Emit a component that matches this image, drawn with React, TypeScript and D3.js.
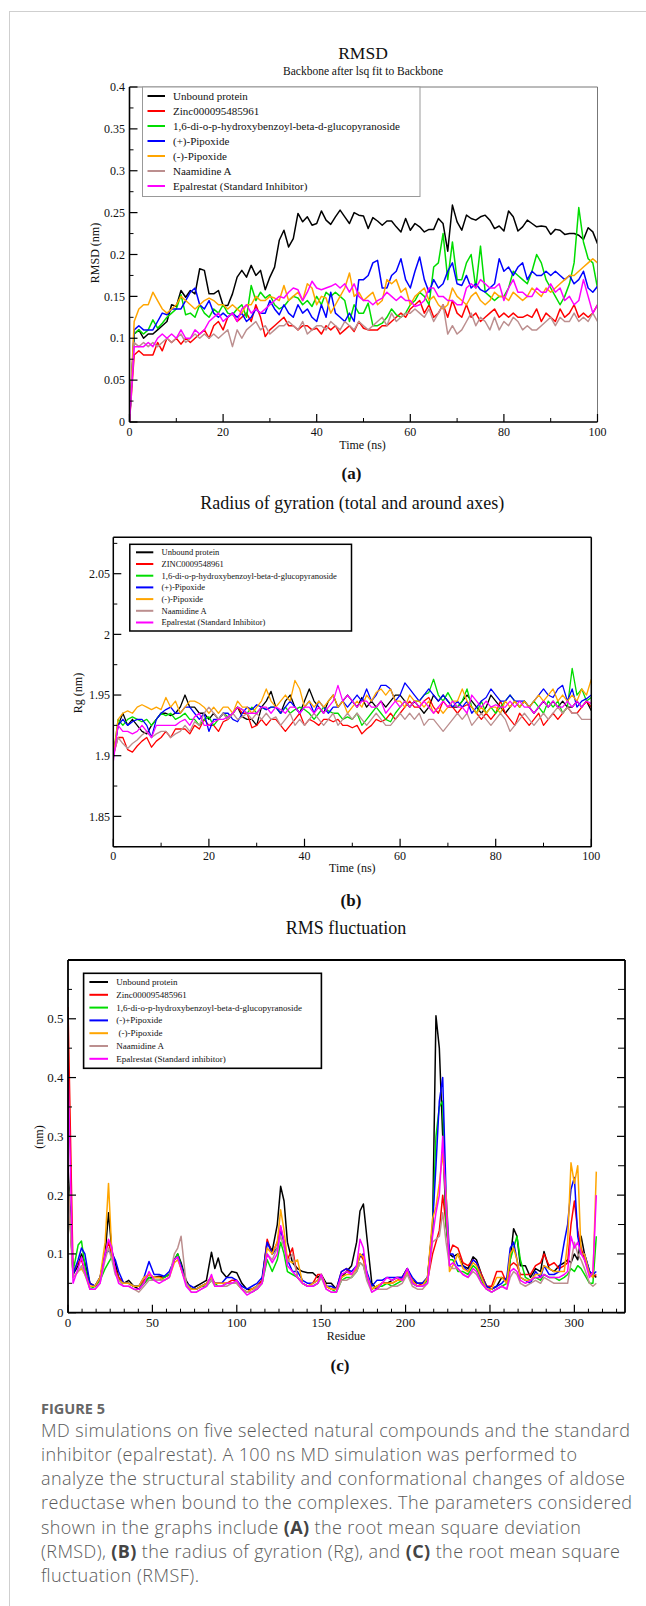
import React from "react";
import * as d3 from "d3";

const SERIES_COLORS = ["#000000", "#ff0000", "#00dd00", "#0000ff", "#ffa500", "#bc8f8f", "#ff00ff"];

const LEGEND_A = [
  "Unbound protein",
  "Zinc000095485961",
  "1,6-di-o-p-hydroxybenzoyl-beta-d-glucopyranoside",
  "(+)-Pipoxide",
  "(-)-Pipoxide",
  "Naamidine A",
  "Epalrestat (Standard Inhibitor)",
];
const LEGEND_B = [
  "Unbound protein",
  "ZINC0009548961",
  "1,6-di-o-p-hydroxybenzoyl-beta-d-glucopyranoside",
  "(+)-Pipoxide",
  "(-)-Pipoxide",
  "Naamidine A",
  "Epalrestat (Standard Inhibitor)",
];
const LEGEND_C = [
  "Unbound protein",
  "Zinc000095485961",
  "1,6-di-o-p-hydroxybenzoyl-beta-d-glucopyranoside",
  "(-)+Pipoxide",
  "\u00a0(-)-Pipoxide",
  "Naamidine A",
  "Epalrestat (Standard inhibitor)",
];

// ---------- RMSD (ns 0..100) ----------
const TIME_NS = d3.range(0, 101);
const RMSD_UNBOUND = [0, 0.105, 0.11, 0.1, 0.105, 0.105, 0.11, 0.115, 0.12, 0.14, 0.138,
  0.157, 0.149, 0.157, 0.153, 0.183, 0.181, 0.153, 0.153, 0.157, 0.139,
  0.139, 0.153, 0.173, 0.181, 0.173, 0.187, 0.175, 0.181, 0.158, 0.173,
  0.185, 0.217, 0.229, 0.209, 0.219, 0.249, 0.239, 0.245, 0.235, 0.237,
  0.252, 0.241, 0.236, 0.245, 0.253, 0.245, 0.237, 0.25, 0.247, 0.246,
  0.231, 0.244, 0.24, 0.235, 0.24, 0.24, 0.233, 0.227, 0.243, 0.229,
  0.237, 0.233, 0.227, 0.23, 0.23, 0.243, 0.237, 0.204, 0.259, 0.239,
  0.229, 0.247, 0.243, 0.241, 0.245, 0.247, 0.241, 0.231, 0.234, 0.228,
  0.252, 0.245, 0.228, 0.233, 0.241, 0.237, 0.233, 0.234, 0.233, 0.224,
  0.23, 0.229, 0.224, 0.225, 0.225, 0.223, 0.218, 0.232, 0.227, 0.213];
const RMSD_ZINC = [0, 0.08, 0.085, 0.08, 0.08, 0.08, 0.095, 0.085, 0.1, 0.095, 0.1,
  0.093, 0.1, 0.095, 0.1, 0.105, 0.11, 0.1, 0.115, 0.12, 0.11,
  0.125, 0.13, 0.12, 0.125, 0.13, 0.12, 0.14, 0.125, 0.102, 0.11,
  0.115, 0.12, 0.125, 0.115, 0.115, 0.11, 0.115, 0.115, 0.11, 0.112,
  0.105, 0.115, 0.11, 0.115, 0.105, 0.11, 0.115, 0.108, 0.12, 0.112,
  0.11, 0.11, 0.11, 0.115, 0.115, 0.12, 0.125, 0.13, 0.125, 0.135,
  0.14, 0.145, 0.13, 0.14, 0.125, 0.13, 0.14, 0.125, 0.145, 0.13,
  0.125, 0.14, 0.125, 0.13, 0.12, 0.125, 0.13, 0.135, 0.125, 0.13,
  0.125, 0.13, 0.125, 0.125, 0.128, 0.125, 0.135, 0.12, 0.13, 0.125,
  0.12, 0.135, 0.125, 0.13, 0.14, 0.125, 0.13, 0.125, 0.13, 0.14];
const RMSD_DIHB = [0, 0.105, 0.11, 0.105, 0.11, 0.122, 0.112, 0.118, 0.125, 0.13, 0.135,
  0.152, 0.128, 0.13, 0.125, 0.14, 0.13, 0.125, 0.135, 0.13, 0.14,
  0.13, 0.128, 0.135, 0.14, 0.125, 0.163, 0.145, 0.155, 0.148, 0.152,
  0.14, 0.135, 0.138, 0.145, 0.15, 0.148, 0.14, 0.145, 0.138, 0.15,
  0.14, 0.155, 0.15, 0.155, 0.15, 0.145, 0.12, 0.14, 0.13, 0.13,
  0.142, 0.115, 0.115, 0.118, 0.125, 0.135, 0.128, 0.125, 0.13, 0.14,
  0.145, 0.155, 0.15, 0.14, 0.185, 0.19, 0.225, 0.17, 0.215, 0.17,
  0.17, 0.19, 0.2, 0.16, 0.21, 0.155, 0.15, 0.145, 0.15, 0.15,
  0.16, 0.18, 0.175, 0.17, 0.165, 0.18, 0.2, 0.19, 0.17, 0.16,
  0.15, 0.14, 0.15, 0.165, 0.19, 0.256, 0.215, 0.195, 0.19, 0.16];
const RMSD_PLUS = [0, 0.11, 0.115, 0.11, 0.11, 0.11, 0.12, 0.13, 0.128, 0.135, 0.135,
  0.135, 0.145, 0.155, 0.16, 0.14, 0.135, 0.145, 0.13, 0.125, 0.13,
  0.125, 0.13, 0.125, 0.13, 0.12, 0.125, 0.135, 0.13, 0.13, 0.145,
  0.135, 0.128, 0.14, 0.13, 0.125, 0.14, 0.13, 0.135, 0.125, 0.12,
  0.14, 0.125, 0.155, 0.13, 0.125, 0.12, 0.13, 0.12, 0.17, 0.17,
  0.175, 0.19, 0.193, 0.16, 0.16, 0.175, 0.18, 0.195, 0.17, 0.16,
  0.18, 0.197, 0.17, 0.155, 0.17, 0.16, 0.165, 0.18, 0.19, 0.165,
  0.163, 0.175, 0.16, 0.165, 0.158, 0.155, 0.16, 0.165, 0.195, 0.18,
  0.185, 0.175, 0.185, 0.19, 0.17, 0.18, 0.175, 0.175, 0.18, 0.175,
  0.18, 0.175, 0.17, 0.175, 0.165, 0.17, 0.18, 0.16, 0.155, 0.162];
const RMSD_MINUS = [0, 0.12, 0.135, 0.14, 0.14, 0.155, 0.145, 0.135, 0.13, 0.135, 0.14,
  0.15, 0.145, 0.14, 0.135, 0.14, 0.145, 0.148, 0.145, 0.14, 0.14,
  0.135, 0.14, 0.135, 0.13, 0.14, 0.14, 0.15, 0.145, 0.145, 0.15,
  0.148, 0.145, 0.163, 0.145, 0.15, 0.155, 0.145, 0.165, 0.16, 0.14,
  0.15, 0.148, 0.13, 0.14, 0.15, 0.16, 0.178, 0.15, 0.155, 0.145,
  0.15, 0.155, 0.14, 0.145, 0.17, 0.165, 0.17, 0.155, 0.16, 0.14,
  0.15, 0.155, 0.16, 0.145, 0.15, 0.14, 0.135, 0.14, 0.16, 0.15,
  0.145, 0.14, 0.15, 0.155, 0.145, 0.14, 0.145, 0.155, 0.15, 0.15,
  0.145, 0.155, 0.15, 0.145, 0.15, 0.16, 0.155, 0.15, 0.16, 0.155,
  0.16, 0.165, 0.17, 0.175, 0.175, 0.18, 0.185, 0.19, 0.195, 0.19];
const RMSD_NAAM = [0, 0.095, 0.09, 0.095, 0.09, 0.095, 0.09, 0.095, 0.1, 0.095, 0.1,
  0.105, 0.095, 0.1, 0.105, 0.1, 0.105, 0.1, 0.105, 0.1, 0.105,
  0.11, 0.09, 0.11, 0.1, 0.11, 0.115, 0.12, 0.11, 0.115, 0.105,
  0.11, 0.115, 0.115, 0.12, 0.115, 0.11, 0.12, 0.105, 0.11, 0.115,
  0.115, 0.11, 0.12, 0.115, 0.11, 0.12, 0.115, 0.11, 0.12, 0.115,
  0.11, 0.115, 0.12, 0.125, 0.115, 0.13, 0.12, 0.125, 0.13, 0.13,
  0.135, 0.13, 0.125, 0.135, 0.12, 0.13, 0.14, 0.105, 0.115, 0.105,
  0.11, 0.12, 0.13, 0.115, 0.125, 0.12, 0.11, 0.125, 0.11, 0.12,
  0.115, 0.125, 0.12, 0.11, 0.115, 0.11, 0.11, 0.115, 0.12, 0.125,
  0.115, 0.125, 0.12, 0.12, 0.13, 0.12, 0.125, 0.12, 0.13, 0.12];
const RMSD_EPAL = [0, 0.09, 0.09, 0.09, 0.095, 0.09, 0.1, 0.105, 0.1, 0.105, 0.1,
  0.11, 0.1, 0.1, 0.11, 0.105, 0.11, 0.12, 0.125, 0.13, 0.12,
  0.125, 0.13, 0.12, 0.135, 0.14, 0.13, 0.135, 0.13, 0.135, 0.14,
  0.145, 0.15, 0.148, 0.155, 0.16, 0.158, 0.145, 0.155, 0.168, 0.16,
  0.158, 0.16, 0.162, 0.165, 0.16, 0.165, 0.155, 0.165, 0.15, 0.145,
  0.145, 0.14, 0.145, 0.148, 0.155, 0.15, 0.145, 0.15, 0.145, 0.145,
  0.138, 0.14, 0.145, 0.16, 0.16, 0.15, 0.15, 0.145, 0.145, 0.14,
  0.14, 0.16, 0.165, 0.16, 0.17, 0.165, 0.16, 0.16, 0.165, 0.145,
  0.16, 0.17, 0.155, 0.155, 0.15, 0.15, 0.16, 0.155, 0.155, 0.165,
  0.155, 0.16, 0.145, 0.15, 0.14, 0.145, 0.17, 0.15, 0.13, 0.14];

// ---------- Radius of gyration (ns 0..100) ----------
const RG_UNBOUND = [1.9, 1.925, 1.935, 1.925, 1.93, 1.925, 1.92, 1.918, 1.925, 1.93, 1.935,
  1.935, 1.933, 1.935, 1.94, 1.95, 1.94, 1.94, 1.935, 1.935, 1.93,
  1.935, 1.93, 1.935, 1.93, 1.935, 1.94, 1.932, 1.93, 1.93, 1.925,
  1.94, 1.945, 1.953, 1.94, 1.935, 1.945, 1.95, 1.94, 1.935, 1.945,
  1.955, 1.945, 1.94, 1.935, 1.945, 1.95, 1.94, 1.945, 1.95, 1.945,
  1.94, 1.948, 1.94, 1.945, 1.94, 1.945, 1.94, 1.945, 1.95, 1.95,
  1.945, 1.94, 1.945, 1.94, 1.935, 1.94, 1.95, 1.945, 1.95, 1.945,
  1.94, 1.94, 1.945, 1.95, 1.945, 1.94, 1.935, 1.94, 1.95, 1.945,
  1.94, 1.935, 1.94, 1.945, 1.94, 1.945, 1.94, 1.935, 1.94, 1.945,
  1.94, 1.945, 1.94, 1.945, 1.94, 1.94, 1.945, 1.94, 1.945, 1.937];
const RG_ZINC = [1.9, 1.915, 1.915, 1.905, 1.903, 1.908, 1.912, 1.915, 1.907, 1.912, 1.915,
  1.92, 1.915, 1.922, 1.922, 1.922, 1.918, 1.925, 1.922, 1.93, 1.925,
  1.925, 1.92, 1.928, 1.93, 1.935, 1.94, 1.935, 1.935, 1.923, 1.925,
  1.93, 1.925, 1.93, 1.93, 1.925, 1.92, 1.925, 1.93, 1.935, 1.925,
  1.93, 1.928, 1.925, 1.93, 1.93, 1.928, 1.93, 1.925, 1.925, 1.923,
  1.925, 1.918, 1.922, 1.925, 1.93, 1.928, 1.93, 1.935, 1.93, 1.935,
  1.94, 1.945, 1.94, 1.94, 1.945, 1.948, 1.94, 1.935, 1.945, 1.94,
  1.94, 1.935, 1.94, 1.942, 1.94, 1.935, 1.93, 1.935, 1.93, 1.935,
  1.945, 1.935, 1.93, 1.925, 1.935, 1.93, 1.925, 1.93, 1.935, 1.925,
  1.93, 1.935, 1.93, 1.935, 1.94, 1.935, 1.935, 1.94, 1.945, 1.94];
const RG_DIHB = [1.9, 1.93, 1.925, 1.93, 1.932, 1.93, 1.928, 1.93, 1.925, 1.93, 1.935,
  1.933, 1.935, 1.93, 1.932, 1.935, 1.93, 1.93, 1.925, 1.93, 1.932,
  1.925, 1.93, 1.935, 1.932, 1.935, 1.94, 1.938, 1.935, 1.94, 1.935,
  1.94, 1.938, 1.94, 1.94, 1.935, 1.94, 1.935, 1.938, 1.94, 1.938,
  1.935, 1.93, 1.935, 1.94, 1.937, 1.935, 1.935, 1.93, 1.932, 1.93,
  1.935, 1.925, 1.93, 1.935, 1.94, 1.935, 1.93, 1.928, 1.935, 1.94,
  1.945, 1.94, 1.945, 1.945, 1.95, 1.952, 1.963, 1.95, 1.945, 1.952,
  1.945, 1.94, 1.945, 1.955, 1.94, 1.935, 1.945, 1.935, 1.94, 1.935,
  1.94, 1.945, 1.95, 1.945, 1.94, 1.945, 1.94, 1.945, 1.94, 1.935,
  1.945, 1.94, 1.945, 1.935, 1.94, 1.972, 1.95, 1.955, 1.945, 1.948];
const RG_PLUS = [1.9, 1.925, 1.93, 1.925, 1.928, 1.93, 1.93, 1.925, 1.915, 1.93, 1.935,
  1.938, 1.94, 1.935, 1.935, 1.94, 1.94, 1.935, 1.93, 1.935, 1.92,
  1.93, 1.93, 1.935, 1.935, 1.93, 1.928, 1.935, 1.94, 1.938, 1.942,
  1.94, 1.938, 1.94, 1.94, 1.935, 1.94, 1.945, 1.94, 1.935, 1.94,
  1.945, 1.935, 1.945, 1.94, 1.935, 1.94, 1.94, 1.945, 1.94, 1.945,
  1.95, 1.945, 1.955, 1.945, 1.95, 1.958, 1.958, 1.955, 1.945, 1.95,
  1.96, 1.955, 1.95, 1.945, 1.95, 1.955, 1.95, 1.945, 1.95, 1.945,
  1.94, 1.945, 1.94, 1.945, 1.935, 1.94, 1.945, 1.948, 1.955, 1.95,
  1.945, 1.945, 1.95, 1.945, 1.945, 1.945, 1.94, 1.945, 1.95, 1.955,
  1.95, 1.948, 1.955, 1.958, 1.945, 1.955, 1.94, 1.945, 1.947, 1.95];
const RG_MINUS = [1.9, 1.93, 1.935, 1.937, 1.935, 1.94, 1.942, 1.94, 1.938, 1.94, 1.938,
  1.948, 1.94, 1.945, 1.935, 1.94, 1.945, 1.945, 1.943, 1.94, 1.935,
  1.94, 1.935, 1.94, 1.94, 1.935, 1.945, 1.94, 1.94, 1.935, 1.94,
  1.945, 1.955, 1.945, 1.94, 1.945, 1.95, 1.945, 1.962, 1.955, 1.94,
  1.945, 1.94, 1.945, 1.94, 1.945, 1.95, 1.94, 1.945, 1.935, 1.94,
  1.945, 1.94, 1.95, 1.945, 1.952, 1.955, 1.95, 1.955, 1.945, 1.945,
  1.94, 1.95, 1.945, 1.945, 1.94, 1.945, 1.935, 1.94, 1.935, 1.94,
  1.945, 1.945, 1.955, 1.945, 1.94, 1.935, 1.94, 1.935, 1.94, 1.94,
  1.935, 1.945, 1.94, 1.945, 1.94, 1.945, 1.94, 1.945, 1.95, 1.945,
  1.95, 1.955, 1.945, 1.95, 1.945, 1.95, 1.945, 1.955, 1.95, 1.963];
const RG_NAAM = [1.9, 1.915, 1.91, 1.906, 1.91, 1.913, 1.917, 1.92, 1.915, 1.918, 1.92,
  1.92, 1.915, 1.918, 1.92, 1.925, 1.92, 1.928, 1.925, 1.935, 1.94,
  1.935, 1.93, 1.935, 1.93, 1.935, 1.93, 1.932, 1.935, 1.93, 1.935,
  1.93, 1.935, 1.93, 1.932, 1.925, 1.93, 1.935, 1.925, 1.93, 1.925,
  1.93, 1.935, 1.93, 1.925, 1.93, 1.935, 1.925, 1.93, 1.935, 1.93,
  1.935, 1.93, 1.925, 1.93, 1.935, 1.93, 1.925, 1.925, 1.93, 1.935,
  1.93, 1.935, 1.93, 1.935, 1.925, 1.93, 1.93, 1.925, 1.92, 1.925,
  1.93, 1.935, 1.93, 1.935, 1.925, 1.93, 1.935, 1.93, 1.925, 1.93,
  1.935, 1.93, 1.92, 1.925, 1.93, 1.935, 1.93, 1.925, 1.93, 1.935,
  1.93, 1.935, 1.94, 1.935, 1.94, 1.935, 1.935, 1.93, 1.93, 1.93];
const RG_EPAL = [1.895, 1.925, 1.92, 1.92, 1.918, 1.92, 1.925, 1.92, 1.915, 1.925, 1.925,
  1.925, 1.925, 1.925, 1.928, 1.93, 1.925, 1.932, 1.935, 1.925, 1.925,
  1.928, 1.93, 1.93, 1.932, 1.935, 1.94, 1.938, 1.935, 1.935, 1.935,
  1.94, 1.94, 1.935, 1.94, 1.938, 1.935, 1.94, 1.94, 1.935, 1.94,
  1.94, 1.935, 1.94, 1.935, 1.94, 1.945, 1.958, 1.945, 1.95, 1.945,
  1.94, 1.945, 1.945, 1.94, 1.94, 1.945, 1.935, 1.94, 1.945, 1.94,
  1.945, 1.94, 1.945, 1.94, 1.945, 1.94, 1.935, 1.94, 1.945, 1.94,
  1.945, 1.94, 1.94, 1.935, 1.95, 1.945, 1.94, 1.945, 1.94, 1.942,
  1.94, 1.94, 1.945, 1.94, 1.945, 1.94, 1.94, 1.935, 1.94, 1.945,
  1.94, 1.945, 1.94, 1.94, 1.945, 1.94, 1.945, 1.94, 1.945, 1.943];

// ---------- RMS fluctuation (per residue) ----------
const RMSF_RESIDUES = [0, 3, 6, 8, 10, 13, 16, 19, 22, 24, 26, 28, 30, 33, 36, 39, 42, 45, 48, 51,
  54, 57, 60, 63, 65, 67, 70, 73, 76, 79, 82, 85, 87, 89, 91, 94, 97, 100, 103, 106,
  109, 112, 115, 118, 121, 124, 126, 128, 130, 133, 136, 139, 142, 145, 148, 150, 153, 156, 159, 162,
  165, 168, 171, 173, 175, 177, 180, 183, 186, 189, 192, 195, 198, 201, 204, 207, 210, 213, 216, 218,
  220, 222, 224, 226, 228, 231, 234, 237, 240, 242, 245, 248, 251, 254, 257, 260, 262, 264, 266, 268,
  271, 274, 277, 280, 282, 285, 288, 291, 294, 296, 298, 300, 302, 304, 306, 309, 311, 313];
const RMSF_UNBOUND = [0.25, 0.065, 0.08, 0.1, 0.085, 0.05, 0.045, 0.06, 0.1, 0.17, 0.105, 0.085, 0.06, 0.05, 0.055, 0.045, 0.04, 0.05, 0.06, 0.06,
  0.062, 0.06, 0.065, 0.09, 0.1, 0.085, 0.055, 0.04, 0.045, 0.05, 0.055, 0.103, 0.075, 0.093, 0.07, 0.06, 0.07, 0.068, 0.05, 0.04,
  0.04, 0.045, 0.055, 0.12, 0.105, 0.15, 0.215, 0.19, 0.12, 0.085, 0.075, 0.07, 0.068, 0.068, 0.06, 0.065, 0.05, 0.05, 0.04, 0.06,
  0.07, 0.08, 0.12, 0.173, 0.185, 0.13, 0.05, 0.04, 0.05, 0.05, 0.055, 0.06, 0.06, 0.075, 0.055, 0.05, 0.05, 0.06, 0.145, 0.505,
  0.45, 0.3, 0.15, 0.1, 0.095, 0.1, 0.08, 0.075, 0.095, 0.09, 0.065, 0.045, 0.04, 0.045, 0.06, 0.055, 0.09, 0.143, 0.13, 0.08,
  0.08, 0.06, 0.075, 0.07, 0.104, 0.075, 0.07, 0.08, 0.085, 0.09, 0.085, 0.1, 0.09, 0.13, 0.1, 0.07, 0.065, 0.06];
const RMSF_ZINC = [0.52, 0.07, 0.085, 0.09, 0.07, 0.05, 0.045, 0.055, 0.1, 0.12, 0.095, 0.075, 0.06, 0.05, 0.05, 0.045, 0.045, 0.055, 0.065, 0.06,
  0.06, 0.06, 0.065, 0.09, 0.095, 0.075, 0.05, 0.04, 0.04, 0.045, 0.05, 0.06, 0.05, 0.05, 0.05, 0.05, 0.055, 0.055, 0.04, 0.035,
  0.04, 0.045, 0.055, 0.125, 0.1, 0.12, 0.145, 0.12, 0.09, 0.11, 0.06, 0.05, 0.045, 0.05, 0.065, 0.065, 0.045, 0.04, 0.04, 0.07,
  0.075, 0.065, 0.075, 0.1, 0.09, 0.065, 0.04, 0.045, 0.05, 0.05, 0.05, 0.055, 0.06, 0.075, 0.055, 0.045, 0.05, 0.055, 0.1, 0.12,
  0.14, 0.2, 0.15, 0.1, 0.115, 0.11, 0.085, 0.08, 0.09, 0.085, 0.065, 0.045, 0.045, 0.07, 0.07, 0.05, 0.08, 0.085, 0.08, 0.065,
  0.065, 0.065, 0.08, 0.085, 0.1, 0.08, 0.085, 0.075, 0.08, 0.085, 0.15, 0.19, 0.14, 0.11, 0.09, 0.07, 0.06, 0.065];
const RMSF_DIHB = [0.22, 0.07, 0.115, 0.122, 0.08, 0.04, 0.045, 0.055, 0.075, 0.085, 0.095, 0.07, 0.055, 0.05, 0.05, 0.045, 0.045, 0.05, 0.06, 0.055,
  0.055, 0.06, 0.065, 0.09, 0.1, 0.08, 0.05, 0.04, 0.04, 0.045, 0.045, 0.055, 0.05, 0.045, 0.045, 0.05, 0.05, 0.05, 0.04, 0.035,
  0.035, 0.04, 0.05, 0.09, 0.07, 0.09, 0.12, 0.1, 0.07, 0.065, 0.06, 0.05, 0.045, 0.045, 0.05, 0.06, 0.045, 0.04, 0.035, 0.055,
  0.06, 0.06, 0.07, 0.085, 0.08, 0.06, 0.04, 0.045, 0.045, 0.05, 0.045, 0.05, 0.055, 0.07, 0.05, 0.045, 0.045, 0.055, 0.15, 0.3,
  0.35, 0.36, 0.15, 0.09, 0.09, 0.07, 0.07, 0.065, 0.08, 0.075, 0.055, 0.04, 0.035, 0.04, 0.045, 0.05, 0.09, 0.11, 0.13, 0.09,
  0.06, 0.055, 0.06, 0.055, 0.065, 0.06, 0.06, 0.055, 0.06, 0.065, 0.075, 0.07, 0.08, 0.075, 0.065, 0.05, 0.05, 0.13];
const RMSF_PLUS = [0.22, 0.065, 0.09, 0.11, 0.1, 0.05, 0.045, 0.06, 0.1, 0.105, 0.1, 0.09, 0.07, 0.05, 0.05, 0.045, 0.045, 0.06, 0.087, 0.065,
  0.065, 0.062, 0.07, 0.09, 0.095, 0.08, 0.05, 0.045, 0.04, 0.045, 0.05, 0.06, 0.05, 0.05, 0.05, 0.06, 0.06, 0.055, 0.045, 0.04,
  0.045, 0.05, 0.06, 0.12, 0.1, 0.11, 0.14, 0.12, 0.09, 0.07, 0.07, 0.055, 0.05, 0.05, 0.055, 0.065, 0.045, 0.045, 0.04, 0.07,
  0.075, 0.07, 0.08, 0.095, 0.1, 0.07, 0.045, 0.055, 0.055, 0.06, 0.06, 0.06, 0.06, 0.075, 0.06, 0.05, 0.05, 0.06, 0.15, 0.25,
  0.36, 0.4, 0.2, 0.1, 0.1, 0.08, 0.08, 0.07, 0.09, 0.085, 0.06, 0.045, 0.04, 0.045, 0.05, 0.06, 0.11, 0.12, 0.09, 0.06,
  0.055, 0.05, 0.07, 0.06, 0.08, 0.065, 0.065, 0.07, 0.12, 0.15, 0.21, 0.23, 0.13, 0.1, 0.1, 0.07, 0.065, 0.07];
const RMSF_MINUS = [0.22, 0.06, 0.07, 0.075, 0.065, 0.045, 0.045, 0.06, 0.12, 0.22, 0.1, 0.07, 0.055, 0.05, 0.05, 0.045, 0.045, 0.06, 0.065, 0.06,
  0.06, 0.055, 0.06, 0.085, 0.09, 0.075, 0.05, 0.04, 0.04, 0.045, 0.05, 0.06, 0.05, 0.05, 0.05, 0.05, 0.05, 0.05, 0.04, 0.035,
  0.04, 0.045, 0.05, 0.11, 0.1, 0.12, 0.175, 0.14, 0.09, 0.085, 0.09, 0.05, 0.045, 0.05, 0.055, 0.065, 0.045, 0.04, 0.04, 0.06,
  0.065, 0.065, 0.075, 0.1, 0.095, 0.065, 0.04, 0.045, 0.05, 0.05, 0.05, 0.055, 0.055, 0.07, 0.055, 0.045, 0.045, 0.06, 0.16, 0.18,
  0.22, 0.27, 0.2, 0.07, 0.08, 0.1, 0.075, 0.07, 0.085, 0.08, 0.06, 0.04, 0.04, 0.06, 0.06, 0.05, 0.1, 0.11, 0.09, 0.06,
  0.055, 0.055, 0.065, 0.065, 0.08, 0.075, 0.07, 0.07, 0.07, 0.12, 0.255, 0.22, 0.25, 0.1, 0.1, 0.065, 0.06, 0.24];
const RMSF_NAAM = [0.22, 0.06, 0.07, 0.08, 0.065, 0.04, 0.04, 0.05, 0.09, 0.11, 0.09, 0.065, 0.055, 0.045, 0.045, 0.04, 0.035, 0.045, 0.055, 0.055,
  0.055, 0.055, 0.06, 0.1, 0.11, 0.13, 0.05, 0.035, 0.035, 0.04, 0.045, 0.055, 0.045, 0.045, 0.045, 0.045, 0.05, 0.05, 0.04, 0.035,
  0.035, 0.045, 0.05, 0.1, 0.09, 0.11, 0.13, 0.11, 0.085, 0.1, 0.06, 0.05, 0.045, 0.045, 0.05, 0.06, 0.04, 0.035, 0.035, 0.055,
  0.055, 0.06, 0.07, 0.085, 0.08, 0.055, 0.035, 0.04, 0.04, 0.04, 0.045, 0.045, 0.05, 0.065, 0.045, 0.04, 0.04, 0.05, 0.12, 0.125,
  0.13, 0.17, 0.12, 0.08, 0.075, 0.075, 0.065, 0.06, 0.07, 0.065, 0.05, 0.04, 0.035, 0.04, 0.045, 0.04, 0.06, 0.07, 0.065, 0.05,
  0.045, 0.05, 0.055, 0.05, 0.06, 0.055, 0.05, 0.05, 0.05, 0.05, 0.085, 0.12, 0.1, 0.09, 0.075, 0.05, 0.045, 0.05];
const RMSF_EPAL = [0.42, 0.05, 0.075, 0.095, 0.07, 0.04, 0.04, 0.05, 0.1, 0.125, 0.11, 0.07, 0.05, 0.045, 0.045, 0.04, 0.04, 0.05, 0.07, 0.055,
  0.05, 0.055, 0.06, 0.09, 0.095, 0.075, 0.045, 0.035, 0.035, 0.04, 0.045, 0.065, 0.045, 0.045, 0.045, 0.05, 0.05, 0.055, 0.04, 0.03,
  0.035, 0.04, 0.05, 0.1, 0.085, 0.1, 0.148, 0.12, 0.08, 0.07, 0.06, 0.05, 0.045, 0.045, 0.05, 0.065, 0.04, 0.035, 0.035, 0.065,
  0.07, 0.065, 0.08, 0.125, 0.11, 0.065, 0.035, 0.04, 0.05, 0.06, 0.055, 0.06, 0.055, 0.075, 0.05, 0.045, 0.045, 0.05, 0.13, 0.17,
  0.2, 0.3, 0.18, 0.08, 0.085, 0.075, 0.065, 0.06, 0.075, 0.07, 0.05, 0.04, 0.035, 0.04, 0.045, 0.04, 0.07, 0.075, 0.07, 0.055,
  0.05, 0.055, 0.06, 0.06, 0.065, 0.06, 0.06, 0.06, 0.065, 0.07, 0.13, 0.11, 0.12, 0.1, 0.09, 0.06, 0.07, 0.2];

// ---------- ticks ----------
const RMSD_Y_TICKS = [0, 0.05, 0.1, 0.15, 0.2, 0.25, 0.3, 0.35, 0.4];
const RMSD_Y_LABELS = ["0", "0.05", "0.1", "0.15", "0.2", "0.25", "0.3", "0.35", "0.4"];
const TIME_TICKS = [0, 20, 40, 60, 80, 100];
const TIME_LABELS = ["0", "20", "40", "60", "80", "100"];
const RG_Y_TICKS = [1.85, 1.9, 1.95, 2, 2.05];
const RG_Y_LABELS = ["1.85", "1.9", "1.95", "2", "2.05"];
const RMSF_Y_TICKS = [0, 0.1, 0.2, 0.3, 0.4, 0.5];
const RMSF_Y_LABELS = ["0", "0.1", "0.2", "0.3", "0.4", "0.5"];
const RESIDUE_TICKS = [0, 50, 100, 150, 200, 250, 300];
const RESIDUE_LABELS = ["0", "50", "100", "150", "200", "250", "300"];

const CAPTION_LINES = [
  [{ t: "MD simulations on five selected natural compounds and the standard" }],
  [{ t: "inhibitor (epalrestat). A 100 ns MD simulation was performed to" }],
  [{ t: "analyze the structural stability and conformational changes of aldose" }],
  [{ t: "reductase when bound to the complexes. The parameters considered" }],
  [{ t: "shown in the graphs include " }, { t: "(A)", b: true }, { t: " the root mean square deviation" }],
  [{ t: "(RMSD), " }, { t: "(B)", b: true }, { t: " the radius of gyration (Rg), and " }, { t: "(C)", b: true }, { t: " the root mean square" }],
  [{ t: "fluctuation (RMSF)." }],
];
const CAPTION_ENDS = [630, 577, 625, 632, 581, 620, 199];

const SERIF = "'Liberation Serif', 'Times New Roman', Times, serif";
const SANS = "'Open Sans', 'Noto Sans', sans-serif";

type PanelProps = {
  id: string;
  left: number; right: number; top: number; bottom: number;
  xDomain: [number, number]; yDomain: [number, number];
  xs: number[]; ys: number[][];
  lw: number;
  xTicks: number[]; xLabels: string[]; xMinor: number[];
  yTicks: number[]; yLabels: string[]; yMinor: number[];
  frameColor: string; frameWidth: number; axisWidth: number;
  rightTicks: boolean;
  tickFont: number; xLabelY: number; yLabelX: number;
  legend: { labels: string[]; x0: number; x1: number; y0: number; y1: number; row0: number; rowStep: number;
    lineX0: number; lineX1: number; textX: number; font: number; border: string; bw: number };
};

function Panel(p: PanelProps) {
  const x = d3.scaleLinear().domain(p.xDomain).range([p.left, p.right]);
  const y = d3.scaleLinear().domain(p.yDomain).range([p.bottom, p.top]);
  const gen = d3.line<number>().x((_, i) => x(p.xs[i])).y((d) => y(d));
  const clip = `clip-${p.id}`;
  const L = p.legend;
  return (
    <g>
      <defs>
        <clipPath id={clip}>
          <rect x={p.left} y={p.top} width={p.right - p.left} height={p.bottom - p.top} />
        </clipPath>
      </defs>
      <g clipPath={`url(#${clip})`}>
        {p.ys.map((vals, k) => (
          <path key={k} d={gen(vals) || ""} fill="none" stroke={SERIES_COLORS[k]} strokeWidth={p.lw} strokeLinejoin="round" />
        ))}
      </g>
      <line x1={p.left} x2={p.right} y1={p.top} y2={p.top} stroke={p.frameColor} strokeWidth={p.frameWidth} />
      <line x1={p.right} x2={p.right} y1={p.top} y2={p.bottom} stroke={p.frameColor} strokeWidth={p.frameWidth} />
      <line x1={p.left} x2={p.right} y1={p.bottom} y2={p.bottom} stroke="#000" strokeWidth={p.axisWidth} />
      <line x1={p.left} x2={p.left} y1={p.top} y2={p.bottom} stroke="#000" strokeWidth={p.axisWidth} />
      {p.xTicks.map((v) => (
        <line key={"xt" + v} x1={x(v)} x2={x(v)} y1={p.bottom} y2={p.bottom - 8} stroke="#000" strokeWidth={1.2} />
      ))}
      {p.xMinor.map((v, i) => (
        <line key={"xm" + i} x1={x(v)} x2={x(v)} y1={p.bottom} y2={p.bottom - 4} stroke="#000" strokeWidth={1} />
      ))}
      {p.yTicks.map((v) => (
        <line key={"yt" + v} x1={p.left} x2={p.left + 8} y1={y(v)} y2={y(v)} stroke="#000" strokeWidth={1.2} />
      ))}
      {p.yMinor.map((v, i) => (
        <line key={"ym" + i} x1={p.left} x2={p.left + 4} y1={y(v)} y2={y(v)} stroke="#000" strokeWidth={1} />
      ))}
      {p.rightTicks &&
        p.yTicks.map((v) => (
          <line key={"rt" + v} x1={p.right} x2={p.right - 8} y1={y(v)} y2={y(v)} stroke="#000" strokeWidth={1.2} />
        ))}
      {p.rightTicks &&
        p.yMinor.map((v, i) => (
          <line key={"rm" + i} x1={p.right} x2={p.right - 7} y1={y(v)} y2={y(v)} stroke="#000" strokeWidth={1} />
        ))}
      {p.xTicks.map((v, i) => (
        <text key={"xl" + v} x={x(v)} y={p.xLabelY} textAnchor="middle" fontFamily={SERIF} fontSize={p.tickFont} fill="#111">
          {p.xLabels[i]}
        </text>
      ))}
      {p.yTicks.map((v, i) => (
        <text key={"yl" + v} x={p.yLabelX} y={y(v)} dy="0.35em" textAnchor="end" fontFamily={SERIF} fontSize={p.tickFont} fill="#111">
          {p.yLabels[i]}
        </text>
      ))}
      <rect x={L.x0} y={L.y0} width={L.x1 - L.x0} height={L.y1 - L.y0} fill="#fff" stroke={L.border} strokeWidth={L.bw} />
      {L.labels.map((lab, i) => {
        const cy = L.row0 + i * L.rowStep;
        return (
          <g key={"lg" + i}>
            <line x1={L.lineX0} x2={L.lineX1} y1={cy} y2={cy} stroke={SERIES_COLORS[i]} strokeWidth={2} />
            <text x={L.textX} y={cy} dy="0.33em" fontFamily={SERIF} fontSize={L.font} fill="#111" style={{ whiteSpace: "pre" }}>
              {lab}
            </text>
          </g>
        );
      })}
    </g>
  );
}

export default function App() {
  const rmsdYMinor = RMSD_Y_TICKS.slice(0, -1).map((v) => v + 0.025);
  const timeMinor = TIME_TICKS.slice(0, -1).map((v) => v + 10);
  const rgYMinor = [1.825, ...RG_Y_TICKS.map((v) => v + 0.025)];
  const rmsfYMinor = RMSF_Y_TICKS.map((v) => v + 0.05);
  const resMinor: number[] = [];
  RESIDUE_TICKS.forEach((v) => {
    for (let k = 1; k < 6; k++) {
      const m = v + (k * 50) / 6;
      if (m < 330) resMinor.push(m);
    }
  });

  return (
    <svg width={646} height={1606} viewBox="0 0 646 1606" style={{ position: "absolute", left: 0, top: 0, background: "#fff" }}>
      <rect x={0} y={0} width={646} height={1606} fill="#fff" />
      <line x1={9.5} x2={9.5} y1={11} y2={1606} stroke="#cfcfcf" strokeWidth={1} />
      <line x1={9.5} x2={646} y1={11.5} y2={11.5} stroke="#cfcfcf" strokeWidth={1} />

      {/* (a) RMSD */}
      <text x={363} y={59} textAnchor="middle" fontFamily={SERIF} fontSize={17.5} fill="#111">RMSD</text>
      <text x={363} y={75} textAnchor="middle" fontFamily={SERIF} fontSize={11.5} fill="#111">Backbone after lsq fit to Backbone</text>
      <Panel
        id="a"
        left={129.5} right={597.5} top={87} bottom={422}
        xDomain={[0, 100]} yDomain={[0, 0.4]}
        xs={TIME_NS}
        ys={[RMSD_UNBOUND, RMSD_ZINC, RMSD_DIHB, RMSD_PLUS, RMSD_MINUS, RMSD_NAAM, RMSD_EPAL]}
        lw={1.5}
        xTicks={TIME_TICKS} xLabels={TIME_LABELS} xMinor={timeMinor}
        yTicks={RMSD_Y_TICKS} yLabels={RMSD_Y_LABELS} yMinor={rmsdYMinor}
        frameColor="#777" frameWidth={1} axisWidth={1.6} rightTicks={false}
        tickFont={12} xLabelY={436} yLabelX={125}
        legend={{ labels: LEGEND_A, x0: 142.5, x1: 420, y0: 87, y1: 196.5, row0: 96, rowStep: 15,
          lineX0: 147.5, lineX1: 165, textX: 173, font: 11, border: "#999", bw: 1 }}
      />
      <text x={362.6} y={449} textAnchor="middle" fontFamily={SERIF} fontSize={12} fill="#111">Time (ns)</text>
      <text transform="translate(95,253) rotate(-90)" dy="0.35em" textAnchor="middle" fontFamily={SERIF} fontSize={12} fill="#111">RMSD (nm)</text>
      <text x={351.5} y={479} textAnchor="middle" fontFamily={SERIF} fontWeight="bold" fontSize={17} fill="#111">(a)</text>

      {/* (b) Rg */}
      <text x={352.3} y={509} textAnchor="middle" fontFamily={SERIF} fontSize={18} fill="#111">Radius of gyration (total and around axes)</text>
      <Panel
        id="b"
        left={113.3} right={591.3} top={537.3} bottom={846.7}
        xDomain={[0, 100]} yDomain={[1.825, 2.08]}
        xs={TIME_NS}
        ys={[RG_UNBOUND, RG_ZINC, RG_DIHB, RG_PLUS, RG_MINUS, RG_NAAM, RG_EPAL]}
        lw={1.3}
        xTicks={TIME_TICKS} xLabels={TIME_LABELS} xMinor={timeMinor}
        yTicks={RG_Y_TICKS} yLabels={RG_Y_LABELS} yMinor={rgYMinor}
        frameColor="#000" frameWidth={1.5} axisWidth={1.5} rightTicks={false}
        tickFont={12} xLabelY={860} yLabelX={110}
        legend={{ labels: LEGEND_B, x0: 129.8, x1: 351.5, y0: 544.3, y1: 631, row0: 552.3, rowStep: 11.7,
          lineX0: 136, lineX1: 153.3, textX: 161.5, font: 8.5, border: "#000", bw: 1.5 }}
      />
      <text x={352.3} y={872} textAnchor="middle" fontFamily={SERIF} fontSize={12} fill="#111">Time (ns)</text>
      <text transform="translate(78,693) rotate(-90)" dy="0.35em" textAnchor="middle" fontFamily={SERIF} fontSize={12} fill="#111">Rg (nm)</text>
      <text x={351} y={906} textAnchor="middle" fontFamily={SERIF} fontWeight="bold" fontSize={17} fill="#111">(b)</text>

      {/* (c) RMSF */}
      <text x={346} y={934} textAnchor="middle" fontFamily={SERIF} fontSize={18} fill="#111">RMS fluctuation</text>
      <Panel
        id="c"
        left={68} right={625} top={960} bottom={1312.7}
        xDomain={[0, 330]} yDomain={[0, 0.6]}
        xs={RMSF_RESIDUES}
        ys={[RMSF_UNBOUND, RMSF_ZINC, RMSF_DIHB, RMSF_PLUS, RMSF_MINUS, RMSF_NAAM, RMSF_EPAL]}
        lw={1.5}
        xTicks={RESIDUE_TICKS} xLabels={RESIDUE_LABELS} xMinor={resMinor}
        yTicks={RMSF_Y_TICKS} yLabels={RMSF_Y_LABELS} yMinor={rmsfYMinor}
        frameColor="#000" frameWidth={1.8} axisWidth={1.8} rightTicks={true}
        tickFont={13} xLabelY={1327} yLabelX={63.5}
        legend={{ labels: LEGEND_C, x0: 83.6, x1: 321.4, y0: 973.3, y1: 1068.3, row0: 982, rowStep: 12.8,
          lineX0: 89.4, lineX1: 108, textX: 116.2, font: 9, border: "#000", bw: 1.6 }}
      />
      <text x={346} y={1340} textAnchor="middle" fontFamily={SERIF} fontSize={12} fill="#111">Residue</text>
      <text transform="translate(39,1137) rotate(-90)" dy="0.35em" textAnchor="middle" fontFamily={SERIF} fontSize={12} fill="#111">(nm)</text>
      <text x={340} y={1371} textAnchor="middle" fontFamily={SERIF} fontWeight="bold" fontSize={17} fill="#111">(c)</text>

      {/* caption */}
      <text x={41} y={1414} fontFamily={SANS} fontWeight={700} fontSize={14.5} fill="#666">FIGURE 5</text>
      {CAPTION_LINES.map((parts, i) => (
        <text key={"cap" + i} x={41} y={1436.5 + i * 24.3} fontFamily={SANS} fontWeight={300} fontSize={18} fill="#5a5a5a"
          textLength={CAPTION_ENDS[i] - 41} lengthAdjust="spacing">
          {parts.map((pt: any, j: number) => (
            <tspan key={j} fontWeight={pt.b ? 700 : 300} fill={pt.b ? "#444" : "#5a5a5a"}>{pt.t}</tspan>
          ))}
        </text>
      ))}
    </svg>
  );
}
